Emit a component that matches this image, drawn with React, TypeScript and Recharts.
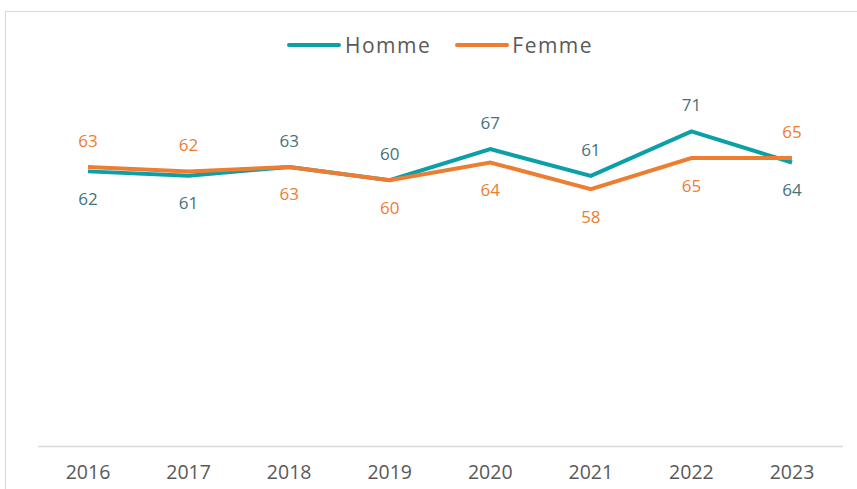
import React from 'react';
import { LineChart, Line, XAxis, YAxis, Legend } from 'recharts';

const years = ['2016', '2017', '2018', '2019', '2020', '2021', '2022', '2023'];
const homme = [62, 61, 63, 60, 67, 61, 71, 64];
const femme = [63, 62, 63, 60, 64, 58, 65, 65];

const data = years.map((y, i) => ({ year: y, Homme: homme[i], Femme: femme[i] }));

const HOMME_LINE = '#0BA0A8';
const FEMME_LINE = '#ED7D31';
const HOMME_LABEL = '#44737B';
const FEMME_LABEL = '#ED7D31';
const FONT = '"Open Sans", sans-serif';

const makeLabel = (series: 'Homme' | 'Femme', color: string) => (props: any) => {
  const { x, y, index, value } = props;
  const h = homme[index];
  const f = femme[index];
  const above = series === 'Homme' ? h >= f : f > h;
  const center = above ? y - 26 : y + 27.5;
  return (
    <text x={x} y={center + 6} textAnchor="middle" fill={color} fontSize={17} fontFamily={FONT}>
      {value}
    </text>
  );
};

const Tick = (props: any) => {
  const { x, y, payload } = props;
  return (
    <text x={x} y={y + 24} textAnchor="middle" fill="#595959" fontSize={19.5} fontFamily={FONT}>
      {payload.value}
    </text>
  );
};

const LegendContent = () => (
  <div style={{ position: 'absolute', left: 0, top: 0, width: 857, height: 0 }}>
    <div style={{ position: 'absolute', left: 287, top: 31, height: 28, display: 'flex', alignItems: 'center', fontFamily: FONT, fontSize: 21, color: '#595959', letterSpacing: 1.5, whiteSpace: 'nowrap' }}>
      <div style={{ width: 54, height: 4, borderRadius: 2, background: HOMME_LINE, marginRight: 4 }} />
      <span>Homme</span>
      <div style={{ width: 54, height: 4, borderRadius: 2, background: FEMME_LINE, marginLeft: 24, marginRight: 3 }} />
      <span>Femme</span>
    </div>
  </div>
);

export default function App() {
  return (
    <div style={{ position: 'fixed', left: 0, top: 0, width: 857, height: 489, overflow: 'hidden', background: '#fff' }}>
      <div style={{ position: 'absolute', left: 5, top: 11, width: 1000, height: 1000, border: '1.3px solid #d9d9d9', boxSizing: 'border-box' }} />
      <div style={{ position: 'absolute', left: 0, top: 0 }}>
        <LineChart width={857} height={489} data={data} margin={{ top: 91.5, right: 14, left: 38, bottom: 12.5 }}>
          <XAxis
            dataKey="year"
            axisLine={{ stroke: '#d9d9d9', strokeWidth: 1.3 }}
            tickLine={false}
            tick={<Tick />}
            height={30}
            interval={0}
            padding={{ left: 50, right: 51 }}
          />
          <YAxis hide domain={[0, 80]} />
          <Legend verticalAlign="top" wrapperStyle={{ position: 'absolute', left: 0, top: 0, width: 857, height: 0 }} content={<LegendContent />} />
          <Line
            dataKey="Homme"
            stroke={HOMME_LINE}
            strokeWidth={4}
            dot={false}
            isAnimationActive={false}
            label={makeLabel('Homme', HOMME_LABEL)}
          />
          <Line
            dataKey="Femme"
            stroke={FEMME_LINE}
            strokeWidth={4}
            dot={false}
            isAnimationActive={false}
            label={makeLabel('Femme', FEMME_LABEL)}
          />
        </LineChart>
      </div>
    </div>
  );
}
